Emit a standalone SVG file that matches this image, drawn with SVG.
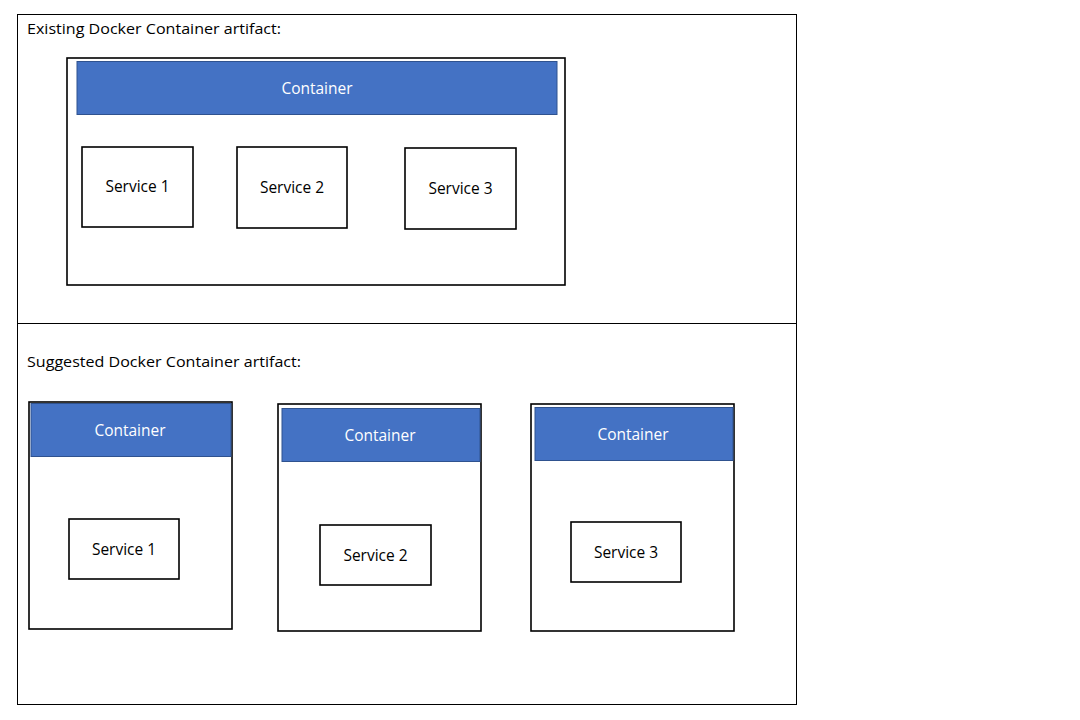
<svg xmlns="http://www.w3.org/2000/svg" width="1080" height="720" viewBox="0 0 1080 720">
<style>
.frame{fill:none;stroke:#000;stroke-width:1}
.box{fill:#fff;stroke:#000;stroke-width:1.6}
.bar{fill:#4472C4;stroke:#2F528F;stroke-width:1}
.t{font-family:"Open Sans","Liberation Sans",sans-serif;font-size:15px;fill:#000}
.w{font-family:"Open Sans","Liberation Sans",sans-serif;font-size:15.5px;fill:#fff;text-anchor:middle}
.s{font-family:"Open Sans","Liberation Sans",sans-serif;font-size:15.5px;fill:#000;text-anchor:middle}
</style>
<rect width="1080" height="720" fill="#fff"/>
<rect class="frame" x="17.5" y="14.5" width="779" height="690"/>
<line class="frame" x1="17.5" y1="323.5" x2="796.5" y2="323.5"/>
<text class="t" x="27" y="34" textLength="254" lengthAdjust="spacingAndGlyphs">Existing Docker Container artifact:</text>
<text class="t" x="27" y="367" textLength="274" lengthAdjust="spacingAndGlyphs">Suggested Docker Container artifact:</text>
<g id="existing-container">
<rect class="box" x="67" y="58" width="498" height="227"/>
<rect class="bar" x="77" y="61.5" width="480" height="53"/>
<text class="w" x="317" y="94">Container</text>
</g>
<g id="existing-service1"><rect class="box" x="82" y="147" width="111" height="80"/><text class="s" x="137.5" y="192">Service 1</text></g>
<g id="existing-service2"><rect class="box" x="237" y="147" width="110" height="81"/><text class="s" x="292" y="193">Service 2</text></g>
<g id="existing-service3"><rect class="box" x="405" y="148" width="111" height="81"/><text class="s" x="460.5" y="194">Service 3</text></g>
<g id="suggested-container1">
<rect class="box" x="29" y="402" width="203" height="227"/>
<rect class="bar" x="31" y="403.5" width="200" height="53"/>
<text class="w" x="130" y="436">Container</text>
</g>
<g id="suggested-service1"><rect class="box" x="69" y="519" width="110" height="60"/><text class="s" x="124" y="555">Service 1</text></g>
<g id="suggested-container2">
<rect class="box" x="278" y="404" width="203" height="227"/>
<rect class="bar" x="282" y="408.5" width="198" height="53"/>
<text class="w" x="380" y="441">Container</text>
</g>
<g id="suggested-service2"><rect class="box" x="320" y="525" width="111" height="60"/><text class="s" x="375.5" y="561">Service 2</text></g>
<g id="suggested-container3">
<rect class="box" x="531" y="404" width="203" height="227"/>
<rect class="bar" x="535" y="407.5" width="198" height="53"/>
<text class="w" x="633" y="440">Container</text>
</g>
<g id="suggested-service3"><rect class="box" x="571" y="522" width="110" height="60"/><text class="s" x="626" y="558">Service 3</text></g>
<g id="connectors"></g>
</svg>
